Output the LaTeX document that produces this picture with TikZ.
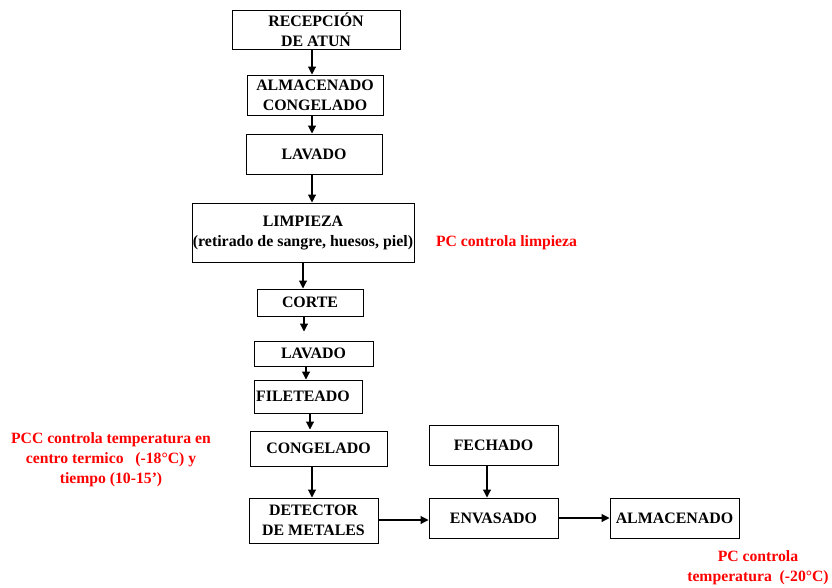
\documentclass[tikz,border=0pt]{standalone}
\usepackage{fontspec}
\setmainfont{Liberation Serif}
\usetikzlibrary{arrows.meta}
\definecolor{pcred}{RGB}{255,0,0}
\begin{document}
\begin{tikzpicture}[x=1pt,y=-1pt,
  box/.style={draw, line width=1pt, inner sep=0pt, align=center,
    font=\fontsize{15.9}{20}\selectfont\bfseries},
  arr/.style={line width=1.1pt, -{Triangle[length=8pt,width=8pt]}},
  note/.style={text=pcred, align=center, inner sep=0pt,
    font=\fontsize{15.7}{20}\selectfont\bfseries}]
\useasboundingbox (0,0) rectangle (832,587);
\node[box, minimum width=168pt, minimum height=39pt] (rec) at (316,29.5) {RECEPCIÓN\\DE ATUN};
\node[box, minimum width=136pt, minimum height=40pt] (alm) at (315,95) {ALMACENADO\\CONGELADO};
\node[box, minimum width=136pt, minimum height=40pt] (lav1) at (314,154) {LAVADO};
\node[box, minimum width=222pt, minimum height=59pt] (lim) at (303,232.5) {LIMPIEZA\\(retirado de sangre, huesos, piel)};
\node[box, minimum width=106pt, minimum height=27pt] (cor) at (310,302.5) {CORTE};
\node[box, minimum width=119pt, minimum height=25pt] (lav2) at (313.5,353.5) {LAVADO};
\node[box, minimum width=108pt, minimum height=33pt] (fil) at (308,396.5) {FILETEADO\hspace*{10pt}};
\node[box, minimum width=137pt, minimum height=35pt] (con) at (318.5,448.5) {CONGELADO};
\node[box, minimum width=129pt, minimum height=45pt] (det) at (313.5,520.5) {DETECTOR\\DE METALES};
\node[box, minimum width=129pt, minimum height=40pt] (fec) at (493.5,445) {FECHADO};
\node[box, minimum width=129pt, minimum height=40pt] (env) at (493.5,518) {ENVASADO};
\node[box, minimum width=129pt, minimum height=40pt] (alm2) at (674.5,518) {ALMACENADO};

\draw[arr] (rec.south -| 312,0) -- (alm.north -| 312,0);
\draw[arr] (alm.south -| 312,0) -- (lav1.north -| 312,0);
\draw[arr] (lav1.south -| 312,0) -- (lim.north -| 312,0);
\draw[arr] (lim.south -| 303,0) -- (cor.north -| 303,0);
\draw[arr, shorten >=9pt] (cor.south -| 304,0) -- (lav2.north -| 304,0);
\draw[arr] (lav2.south -| 306,0) -- (fil.north -| 306,0);
\draw[arr, shorten >=1pt] (fil.south -| 310,0) -- (con.north -| 310,0);
\draw[arr] (con.south -| 312,0) -- (det.north -| 312,0);
\draw[arr] (fec.south -| 487,0) -- (env.north -| 487,0);
\draw[arr] (det.east |- 0,520) -- (env.west |- 0,520);
\draw[arr] (env.east) -- (alm2.west);

\node[note] (n1) at (506.5,243) {PC controla limpieza};
\node[note] (n2) at (111,460) {PCC controla temperatura en\\centro termico \ \ (-18°C) y\\tiempo (10-15’)};
\node[note] (n3) at (758,568) {PC controla\\temperatura \ (-20°C)};
\end{tikzpicture}
\end{document}
